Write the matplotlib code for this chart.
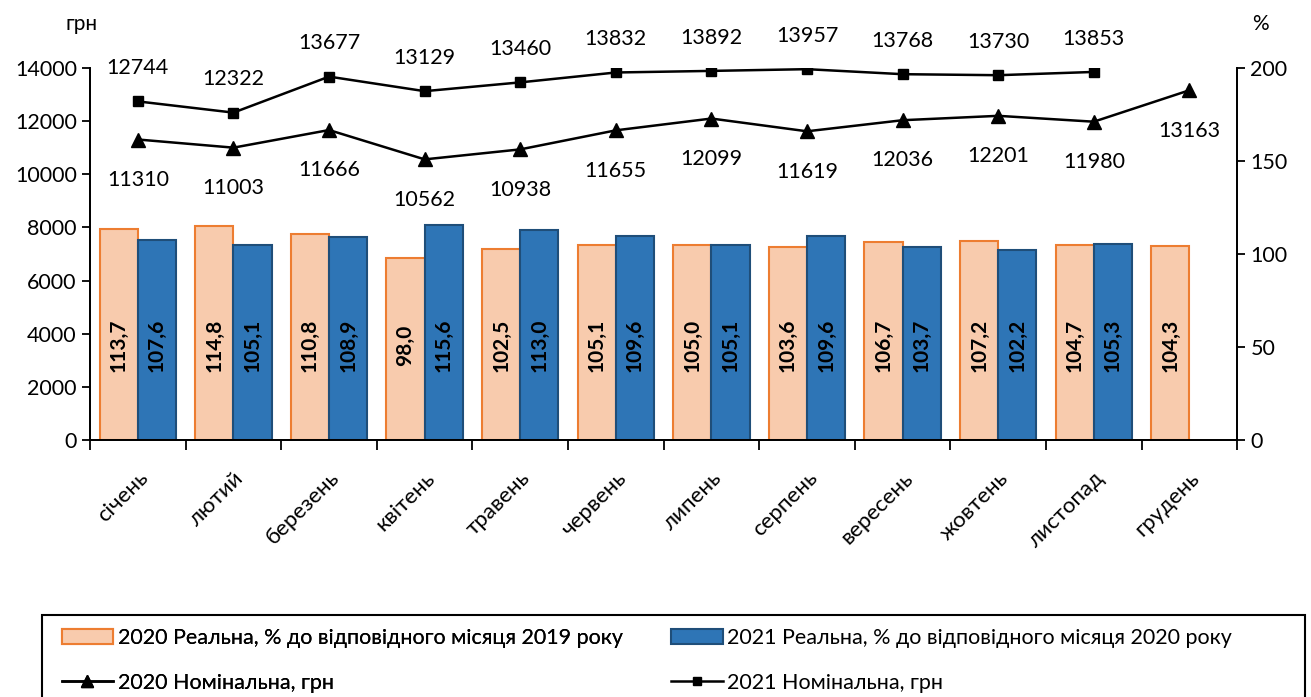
import matplotlib.pyplot as plt
import numpy as np
from matplotlib.lines import Line2D
from matplotlib.patches import Patch, Rectangle

months = ['січень', 'лютий', 'березень', 'квітень', 'травень', 'червень',
          'липень', 'серпень', 'вересень', 'жовтень', 'листопад', 'грудень']
real_2020 = [113.7, 114.8, 110.8, 98.0, 102.5, 105.1, 105.0, 103.6, 106.7, 107.2, 104.7, 104.3]
real_2021 = [107.6, 105.1, 108.9, 115.6, 113.0, 109.6, 105.1, 109.6, 103.7, 102.2, 105.3]
nominal_2020 = [11310, 11003, 11666, 10562, 10938, 11655, 12099, 11619, 12036, 12201, 11980, 13163]
nominal_2021 = [12744, 12322, 13677, 13129, 13460, 13832, 13892, 13957, 13768, 13730, 13853]

label_2020_bar = '2020 Реальна, % до відповідного місяця 2019 року'
label_2021_bar = '2021 Реальна, % до відповідного місяця 2020 року'
label_2020_line = '2020 Номінальна, грн'
label_2021_line = '2021 Номінальна, грн'

plt.rcParams['font.family'] = ['Lato', 'DejaVu Sans']

orange_fill, orange_edge = '#F8CBAD', '#ED7D31'
blue_fill, blue_edge = '#2E75B6', '#1F4E79'


def fmt(v):
    return f'{v:.1f}'.replace('.', ',')


fig = plt.figure(figsize=(13.11, 6.97), dpi=100)
ax = fig.add_axes([0.0687, 0.3687, 0.875, 0.5337])
ax_r = ax.twinx()
ax.set_zorder(ax_r.get_zorder() + 1)
ax.patch.set_visible(False)

x = np.arange(len(months))
w = 0.4

# bars on the % axis
ax_r.bar(x - w / 2, real_2020, w, color=orange_fill, edgecolor=orange_edge, linewidth=1.5)
x21 = x[:len(real_2021)]
ax_r.bar(x21 + w / 2, real_2021, w, color=blue_fill, edgecolor=blue_edge, linewidth=1.5)
for xi, v in zip(x - w / 2, real_2020):
    ax_r.text(xi, 51, fmt(v), rotation=90, ha='center', va='center',
              fontsize=15, fontweight='bold', color='black')
for xi, v in zip(x21 + w / 2, real_2021):
    ax_r.text(xi, 51, fmt(v), rotation=90, ha='center', va='center',
              fontsize=15, fontweight='bold', color='black')

# lines on the грн axis
ax.plot(x, nominal_2020, color='black', lw=1.8, marker='^', ms=10)
ax.plot(x[:len(nominal_2021)], nominal_2021, color='black', lw=1.8, marker='s', ms=7)
for xi, v in zip(x, nominal_2020):
    ax.annotate(str(v), (xi, v), xytext=(0, -29), textcoords='offset points',
                ha='center', va='center', fontsize=15.5)
for xi, v in zip(x, nominal_2021):
    ax.annotate(str(v), (xi, v), xytext=(0, 24), textcoords='offset points',
                ha='center', va='center', fontsize=15.5)

ax.set_xlim(-0.5, len(months) - 0.5)
ax.set_ylim(0, 14000)
ax.set_yticks(np.arange(0, 14001, 2000))
ax_r.set_ylim(0, 200)
ax_r.set_yticks(np.arange(0, 201, 50))

ax.set_xticks(x)
ax.set_xticklabels(months, rotation=45, ha='right', rotation_mode='anchor', fontsize=16)
ax.set_xticks(np.arange(-0.5, len(months), 1), minor=True)
ax.tick_params(axis='x', which='major', length=0, pad=20)
ax.tick_params(axis='x', which='minor', length=7, width=1.3, direction='out')
ax.tick_params(axis='y', labelsize=15.5, length=6, width=1.3)
ax_r.tick_params(axis='y', labelsize=15.5, length=6, width=1.3)

for a in (ax, ax_r):
    a.spines['top'].set_visible(False)
    for s in ('left', 'right', 'bottom'):
        a.spines[s].set_linewidth(1.3)

fig.text(0.05, 0.965, 'грн', fontsize=15, ha='left', va='center')
fig.text(0.955, 0.965, '%', fontsize=15, ha='left', va='center')

col1 = [
    Patch(facecolor=orange_fill, edgecolor=orange_edge, linewidth=1.5, label=label_2020_bar),
    Line2D([], [], color='black', lw=1.8, marker='^', ms=9, label=label_2020_line),
]
col2 = [
    Patch(facecolor=blue_fill, edgecolor=blue_edge, linewidth=1.5, label=label_2021_bar),
    Line2D([], [], color='black', lw=1.8, marker='s', ms=6, label=label_2021_line),
]
leg_kw = dict(loc='upper left', fontsize=15.5, frameon=False, handlelength=2.4,
              handletextpad=0.2, labelspacing=1.15, borderpad=0.0, borderaxespad=0.0)
leg1 = fig.legend(handles=col1, bbox_to_anchor=(0.047, 0.099), **leg_kw)
leg2 = fig.legend(handles=col2, bbox_to_anchor=(0.512, 0.099), **leg_kw)
fig.add_artist(leg1)

# legend frame, cut off by the figure edge like the original
fig.add_artist(Rectangle((42 / 1311, -0.02), 1263 / 1311, 0.02 + 82 / 697,
                         transform=fig.transFigure, fill=False,
                         edgecolor='black', linewidth=1.5))

fig.savefig('out.png', dpi=100)
